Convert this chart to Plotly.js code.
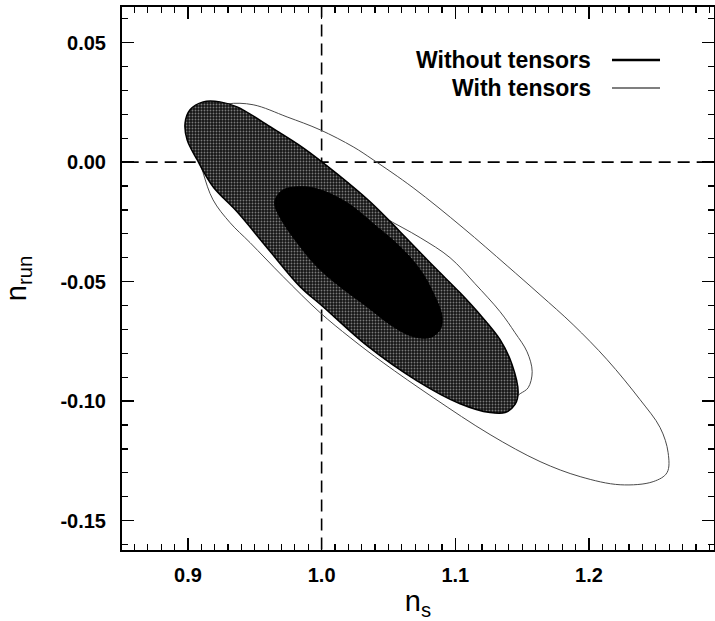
<!DOCTYPE html>
<html>
<head>
<meta charset="utf-8">
<script src="https://cdn.plot.ly/plotly-3.0.1.min.js"></script>
<style>html,body{margin:0;padding:0;background:#fff;}#chart{width:715px;height:621px;}</style>
</head>
<body>
<div id="chart"></div>
<script>
// Reference lines (n_s = 1, n_run = 0)
const refVx = [1.0, 1.0];
const refVy = [-0.17, 0.07];
const refHx = [0.84, 1.30];
const refHy = [0.0, 0.0];

// Without tensors, 2-sigma region (outer filled)
const nsNoT2 = [1.0116,1.0363,1.0587,1.0834,1.1036,1.1186,1.1335,1.1425,1.1470,1.1447,1.1373,1.1260,1.1036,1.0714,1.0340,1.0011,0.9839,0.9592,0.9368,0.9188,0.9069,0.8994,0.8979,0.9016,0.9114,0.9241,0.9368,0.9615,0.9862,1.0116];
const nrunNoT2 = [-0.0049,-0.0166,-0.0291,-0.0434,-0.0547,-0.0639,-0.0743,-0.0848,-0.0964,-0.1014,-0.1048,-0.1048,-0.1011,-0.0915,-0.0768,-0.0605,-0.0521,-0.0358,-0.0208,-0.0103,0.0010,0.0093,0.0164,0.0219,0.0252,0.0252,0.0231,0.0148,0.0060,-0.0049];

// Without tensors, 1-sigma region (inner black)
const nsNoT1 = [1.0415,1.0587,1.0737,1.0834,1.0901,1.0886,1.0812,1.0684,1.0535,1.0340,1.0138,0.9966,0.9817,0.9712,0.9652,0.9652,0.9712,0.9862,0.9989,1.0191,1.0415];
const nrunNoT1 = [-0.0271,-0.0354,-0.0450,-0.0546,-0.0647,-0.0701,-0.0734,-0.0730,-0.0688,-0.0605,-0.0521,-0.0438,-0.0337,-0.0253,-0.0186,-0.0158,-0.0116,-0.0103,-0.0116,-0.0170,-0.0271];

// With tensors, outer contour
const nsT2 = [1.0684,1.1058,1.1388,1.1634,1.1881,1.2136,1.2382,1.2532,1.2592,1.2584,1.2480,1.2233,1.1934,1.1634,1.1260,1.0834,1.0460,1.0213,0.9989,0.9712,0.9465,0.9316,0.9188,0.9114,0.9054,0.9129,0.9203,0.9301,0.9488,0.9742,0.9989,1.0236,1.0385,1.0684];
const nrunT2 = [-0.0107,-0.0275,-0.0434,-0.0555,-0.0680,-0.0827,-0.0994,-0.1111,-0.1216,-0.1299,-0.1337,-0.1350,-0.1316,-0.1253,-0.1140,-0.0985,-0.0839,-0.0734,-0.0630,-0.0479,-0.0337,-0.0254,-0.0158,-0.0045,0.0093,0.0185,0.0227,0.0244,0.0240,0.0189,0.0135,0.0064,0.0010,-0.0107];

// With tensors, inner contour
const nsT1 = [1.0737,1.0961,1.1148,1.1335,1.1447,1.1537,1.1575,1.1545,1.1485,1.1410,1.1186,1.0737,1.0213,0.9765,0.9390,0.9203,0.9166,0.9278,0.9540,0.9839,1.0138,1.0460,1.0737];
const nrunT1 = [-0.0316,-0.0400,-0.0509,-0.0626,-0.0714,-0.0794,-0.0877,-0.0944,-0.0969,-0.0994,-0.0973,-0.0827,-0.0576,-0.0346,-0.0137,0.0010,0.0114,0.0156,0.0093,-0.0011,-0.0116,-0.0229,-0.0316];

// Axis ticks
const xTicks = [0.9, 1.0, 1.1, 1.2];
const xTickText = ['0.9', '1.0', '1.1', '1.2'];
const yTicks = [0.05, 0.0, -0.05, -0.10, -0.15];
const yTickText = ['0.05', '0.00', '-0.05', '-0.10', '-0.15'];

const legendLabels = ['Without tensors', 'With tensors'];

const dash = {color:'#000', width:1.6, dash:'12px,7px'};
const traces = [
  {x: refVx, y: refVy, mode:'lines', line: dash, hoverinfo:'skip', showlegend:false},
  {x: refHx, y: refHy, mode:'lines', line: dash, hoverinfo:'skip', showlegend:false},
  {x: nsT1, y: nrunT1, mode:'lines', line:{color:'#4a4a4a', width:1, shape:'spline', smoothing:1}, hoverinfo:'skip', showlegend:false},
  {x: nsT2, y: nrunT2, mode:'lines', line:{color:'#4a4a4a', width:1, shape:'spline', smoothing:1}, hoverinfo:'skip', showlegend:false},
  {x: nsNoT2, y: nrunNoT2, mode:'lines', fill:'toself', fillcolor:'#222',
   fillpattern:{shape:'.', bgcolor:'#151515', fgcolor:'#7a7a7a', size:3, solidity:0.3},
   line:{color:'#000', width:1.5, shape:'spline', smoothing:1}, hoverinfo:'skip', showlegend:false},
  {x: nsNoT1, y: nrunNoT1, mode:'lines', fill:'toself', fillcolor:'#000',
   line:{color:'#000', width:1, shape:'spline', smoothing:1}, hoverinfo:'skip', showlegend:false}
];

const tickFont = {family:'Liberation Sans, Arial, sans-serif', size:20, color:'#000', weight:'bold'};
const layout = {
  width:715, height:621,
  margin:{l:122, r:1, t:7, b:70.5},
  paper_bgcolor:'#fff', plot_bgcolor:'#fff',
  showlegend:false,
  xaxis:{
    range:[0.8507, 1.2935], tickvals:xTicks, ticktext:xTickText,
    ticks:'inside', ticklen:12, tickwidth:1.5, tickcolor:'#000',
    showline:true, linewidth:2, linecolor:'#000', mirror:'ticks',
    showgrid:false, zeroline:false, tickfont:tickFont, ticklabelstandoff:6,
    minor:{dtick:0.01, tick0:0, ticks:'inside', ticklen:6, tickwidth:1.2, tickcolor:'#000', showgrid:false},
    title:{text:'n<sub>s</sub>', font:{family:'Liberation Sans, Arial, sans-serif', size:29, color:'#000'}, standoff:20}
  },
  yaxis:{
    range:[-0.1623, 0.0649], tickvals:yTicks, ticktext:yTickText,
    ticks:'inside', ticklen:12, tickwidth:1.5, tickcolor:'#000',
    showline:true, linewidth:2, linecolor:'#000', mirror:'ticks',
    showgrid:false, zeroline:false, tickfont:tickFont, ticklabelstandoff:10,
    minor:{dtick:0.01, tick0:0, ticks:'inside', ticklen:6, tickwidth:1.2, tickcolor:'#000', showgrid:false},
    title:{text:'n<sub>run</sub>', font:{family:'Liberation Sans, Arial, sans-serif', size:29, color:'#000'}, standoff:28}
  },
  annotations:[
    {xref:'paper', yref:'paper', x:0.7956, y:0.9025, xanchor:'right', yanchor:'middle', showarrow:false,
     text:legendLabels[0], font:{family:'Liberation Sans, Arial, sans-serif', size:23, color:'#000', weight:'bold'}},
    {xref:'paper', yref:'paper', x:0.7956, y:0.851, xanchor:'right', yanchor:'middle', showarrow:false,
     text:legendLabels[1], font:{family:'Liberation Sans, Arial, sans-serif', size:23, color:'#000', weight:'bold'}}
  ],
  shapes:[
    {type:'line', xref:'paper', yref:'paper', x0:0.8277, x1:0.9088, y0:0.9025, y1:0.9025, line:{color:'#000', width:2.5}},
    {type:'line', xref:'paper', yref:'paper', x0:0.8277, x1:0.9088, y0:0.851, y1:0.851, line:{color:'#555', width:1.5}}
  ]
};
Plotly.newPlot('chart', traces, layout, {staticPlot:true, displayModeBar:false});
</script>
</body>
</html>
